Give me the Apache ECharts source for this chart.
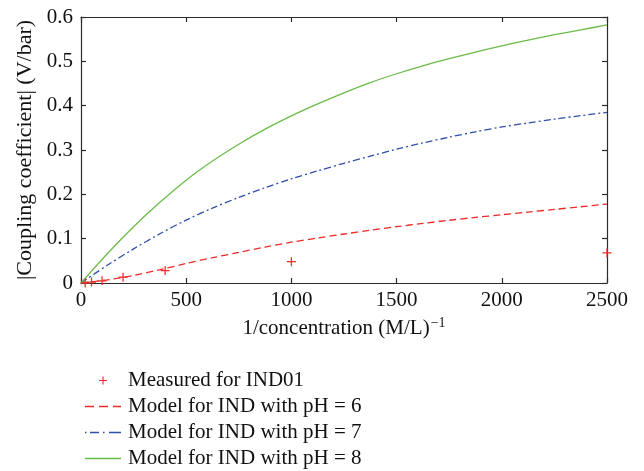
<!DOCTYPE html>
<html>
<head>
<meta charset="utf-8">
<script src="https://cdn.jsdelivr.net/npm/echarts@6/dist/echarts.min.js"></script>
<style>
  html, body { margin: 0; padding: 0; background: #fff; }
  #chart { width: 644px; height: 471px; }
</style>
</head>
<body>
<div id="chart"></div>
<script>
// Inverse concentration (M/L)^-1 and coupling coefficient magnitudes (V/bar)
const measuredX = [20, 50, 100, 200, 400, 1000, 2500];
const measuredY = [0, 0.002, 0.005, 0.013, 0.028, 0.048, 0.068];

const modelX = [0, 125, 250, 375, 500, 625, 750, 875, 1000, 1125, 1250, 1375, 1500,
                1625, 1750, 1875, 2000, 2125, 2250, 2375, 2500];
const modelPH6 = [0, 0.007, 0.017, 0.030, 0.044, 0.057, 0.069, 0.081, 0.092, 0.1015, 0.1105, 0.119, 0.127,
                  0.1345, 0.1415, 0.148, 0.154, 0.160, 0.166, 0.172, 0.178];
const modelPH7 = [0, 0.040, 0.077, 0.111, 0.142, 0.169, 0.193, 0.215, 0.235, 0.253, 0.270, 0.286, 0.302,
                  0.316, 0.329, 0.341, 0.352, 0.361, 0.3695, 0.3775, 0.385];
const modelPH8 = [0, 0.066, 0.127, 0.182, 0.232, 0.275, 0.313, 0.347, 0.377, 0.404, 0.429, 0.452, 0.472,
                  0.490, 0.506, 0.521, 0.535, 0.548, 0.560, 0.571, 0.582];

const xTicks = [0, 500, 1000, 1500, 2000, 2500];
const yTicks = [0, 0.1, 0.2, 0.3, 0.4, 0.5, 0.6];

const seriesNames = [
  'Measured for IND01',
  'Model for IND with pH = 6',
  'Model for IND with pH = 7',
  'Model for IND with pH = 8'
];

const FONT = '"Liberation Serif", "DejaVu Serif", serif';
const FS = 21;
const AXIS_COLOR = '#2b2b2b';
const TEXT_COLOR = '#111';
const RED = '#ee2a2a';
const BLUE = '#2f4fa8';
const GREEN = '#6cbb4a';

// Marker and legend glyphs
const PLUS = 'path://M4.3,0H5.7V4.3H10V5.7H5.7V10H4.3V5.7H0V4.3H4.3Z';
const ICON_DASH = 'path://M0,0H9V1.4H0Z M14,0H23V1.4H14Z M28,0H36V1.4H28Z';
const ICON_DASHDOT = 'path://M0,0H1.5V1.4H0Z M5,0H14V1.4H5Z M18,0H19.5V1.4H18Z M24,0H36V1.4H24Z';
const ICON_SOLID = 'path://M0,0H36V1.4H0Z';

const pairs = (xs, ys) => xs.map((x, i) => [x, ys[i]]);

const frameAxis = (extra) => Object.assign({
  type: 'value',
  axisLine: { show: true, onZero: false, lineStyle: { color: AXIS_COLOR, width: 1.2 } },
  axisTick: { show: true, inside: true, length: 5, lineStyle: { color: AXIS_COLOR, width: 1.2 } },
  splitLine: { show: false }
}, extra);

const chart = echarts.init(document.getElementById('chart'), null, { renderer: 'canvas' });

chart.setOption({
  animation: false,
  backgroundColor: '#ffffff',
  textStyle: { fontFamily: FONT },
  grid: { left: 81, right: 37, top: 17, bottom: 188, containLabel: false },
  xAxis: [
    frameAxis({
      position: 'bottom',
      min: xTicks[0], max: xTicks[xTicks.length - 1], interval: 500,
      axisLabel: { margin: 7, color: TEXT_COLOR, fontSize: FS, fontFamily: FONT, formatter: (v) => String(v) },
      name: '{m|1/concentration (M/L)}{s|−1}',
      nameLocation: 'middle',
      nameGap: 30,
      nameTextStyle: {
        rich: {
          m: { fontSize: FS, fontFamily: FONT, color: TEXT_COLOR },
          s: { fontSize: 14, fontFamily: FONT, color: TEXT_COLOR, padding: [0, 0, 12, 1] }
        }
      }
    }),
    frameAxis({
      position: 'top',
      min: xTicks[0], max: xTicks[xTicks.length - 1], interval: 500,
      axisLabel: { show: false }
    })
  ],
  yAxis: [
    frameAxis({
      position: 'left',
      min: yTicks[0], max: yTicks[yTicks.length - 1], interval: 0.1,
      axisLabel: { margin: 8, color: TEXT_COLOR, fontSize: FS, fontFamily: FONT },
      name: '|Coupling coefficient| (V/bar)',
      nameLocation: 'middle',
      nameGap: 44,
      nameTextStyle: { fontSize: 22, fontFamily: FONT, color: TEXT_COLOR }
    }),
    frameAxis({
      position: 'right',
      min: yTicks[0], max: yTicks[yTicks.length - 1], interval: 0.1,
      axisLabel: { show: false }
    })
  ],
  legend: {
    orient: 'vertical',
    left: 80,
    top: 365,
    height: 120,
    itemWidth: 36,
    itemHeight: 8,
    itemGap: 5,
    textStyle: { fontSize: FS, fontFamily: FONT, color: TEXT_COLOR, padding: [0, 0, 0, 2] },
    data: [
      { name: seriesNames[0], icon: PLUS, itemStyle: { color: RED } },
      { name: seriesNames[1], icon: ICON_DASH, itemStyle: { color: RED } },
      { name: seriesNames[2], icon: ICON_DASHDOT, itemStyle: { color: BLUE } },
      { name: seriesNames[3], icon: ICON_SOLID, itemStyle: { color: GREEN } }
    ]
  },
  series: [
    {
      name: seriesNames[0],
      type: 'line',
      data: pairs(measuredX, measuredY),
      symbol: PLUS,
      symbolSize: 9,
      showSymbol: true,
      itemStyle: { color: RED },
      lineStyle: { color: 'rgba(0,0,0,0)', width: 0 },
      z: 5
    },
    {
      name: seriesNames[1],
      type: 'line',
      data: pairs(modelX, modelPH6),
      smooth: 0.3,
      symbol: 'none',
      itemStyle: { color: RED },
      lineStyle: { color: RED, width: 1.3, type: [7, 4] }
    },
    {
      name: seriesNames[2],
      type: 'line',
      data: pairs(modelX, modelPH7),
      smooth: 0.3,
      symbol: 'none',
      itemStyle: { color: BLUE },
      lineStyle: { color: BLUE, width: 1.3, type: [7, 3, 2, 3] }
    },
    {
      name: seriesNames[3],
      type: 'line',
      data: pairs(modelX, modelPH8),
      smooth: 0.3,
      symbol: 'none',
      itemStyle: { color: GREEN },
      lineStyle: { color: GREEN, width: 1.3 }
    }
  ]
});
</script>
</body>
</html>
